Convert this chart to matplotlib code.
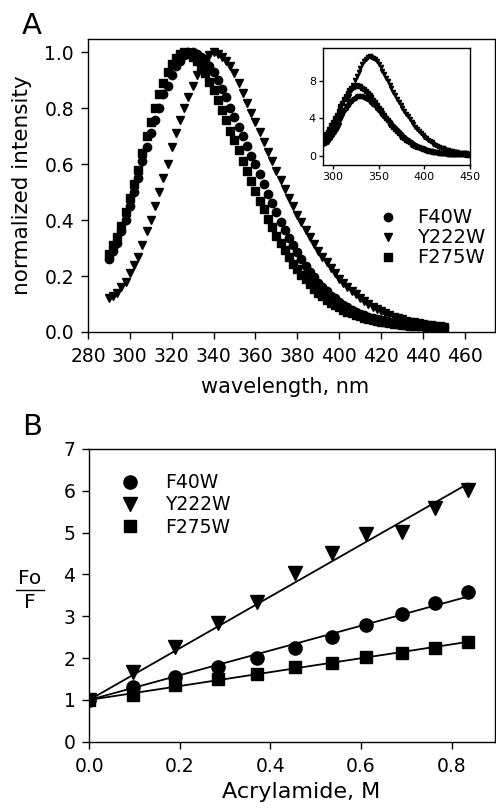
import matplotlib
matplotlib.use('Agg')
import matplotlib.pyplot as plt
import numpy as np
from matplotlib.lines import Line2D

plt.rcParams['font.family'] = ['DejaVu Sans']

# ---- panel A: emission spectra, normalized (290-450 nm, every 2 nm)
wavelength = np.arange(290, 451, 2)

f40w_norm = [0.26, 0.29, 0.32, 0.36, 0.40, 0.45, 0.50, 0.55, 0.61, 0.66,
             0.71, 0.76, 0.80, 0.85, 0.88, 0.92, 0.95, 0.97, 0.99, 1.00,
             1.00, 0.995, 0.985, 0.97, 0.95, 0.93, 0.90, 0.87, 0.84, 0.80,
             0.77, 0.735, 0.70, 0.665, 0.63, 0.60, 0.565, 0.53, 0.495, 0.46,
             0.43, 0.395, 0.365, 0.335, 0.31, 0.285, 0.26, 0.235, 0.215, 0.195,
             0.175, 0.16, 0.145, 0.13, 0.12, 0.107, 0.097, 0.088, 0.08, 0.073,
             0.066, 0.06, 0.055, 0.05, 0.046, 0.042, 0.039, 0.036, 0.033, 0.031,
             0.029, 0.027, 0.025, 0.024, 0.023, 0.022, 0.021, 0.02, 0.019, 0.018,
             0.017]

y222w_norm = [0.12, 0.13, 0.14, 0.16, 0.18, 0.21, 0.24, 0.27, 0.31, 0.36,
              0.40, 0.45, 0.50, 0.55, 0.60, 0.66, 0.71, 0.76, 0.80, 0.84,
              0.88, 0.92, 0.95, 0.975, 0.99, 1.00, 0.995, 0.985, 0.97, 0.95,
              0.925, 0.89, 0.855, 0.82, 0.785, 0.75, 0.715, 0.68, 0.645, 0.61,
              0.575, 0.545, 0.51, 0.48, 0.45, 0.42, 0.395, 0.365, 0.34, 0.315,
              0.29, 0.27, 0.25, 0.23, 0.21, 0.19, 0.175, 0.16, 0.145, 0.135,
              0.12, 0.11, 0.10, 0.09, 0.082, 0.074, 0.067, 0.06, 0.055, 0.05,
              0.045, 0.041, 0.037, 0.034, 0.031, 0.028, 0.026, 0.024, 0.022, 0.02,
              0.019]

f275w_norm = [0.28, 0.31, 0.34, 0.38, 0.43, 0.48, 0.53, 0.58, 0.64, 0.70,
              0.75, 0.80, 0.85, 0.89, 0.93, 0.96, 0.98, 0.995, 1.00, 0.995,
              0.985, 0.97, 0.95, 0.925, 0.895, 0.865, 0.83, 0.795, 0.76, 0.72,
              0.685, 0.65, 0.61, 0.575, 0.54, 0.505, 0.47, 0.44, 0.405, 0.375,
              0.345, 0.32, 0.295, 0.27, 0.245, 0.225, 0.205, 0.19, 0.17, 0.155,
              0.14, 0.128, 0.116, 0.105, 0.096, 0.088, 0.08, 0.073, 0.067, 0.061,
              0.056, 0.051, 0.047, 0.043, 0.04, 0.037, 0.034, 0.032, 0.03, 0.028,
              0.026, 0.025, 0.023, 0.022, 0.021, 0.02, 0.019, 0.018, 0.018, 0.017,
              0.016]

# peak intensities of the raw spectra (inset)
peak_f40w = 6.4
peak_y222w = 10.6
peak_f275w = 7.5

# ---- panel B: Stern-Volmer quenching
acrylamide = [0, 0.097, 0.19, 0.285, 0.37, 0.454, 0.535, 0.612, 0.69, 0.763, 0.837]
f40w_fof = [1.0, 1.30, 1.555, 1.78, 2.01, 2.25, 2.50, 2.78, 3.05, 3.31, 3.59]
y222w_fof = [1.0, 1.67, 2.27, 2.85, 3.35, 4.03, 4.52, 4.97, 5.02, 5.58, 6.02]
f275w_fof = [1.0, 1.12, 1.36, 1.49, 1.63, 1.79, 1.89, 2.02, 2.11, 2.25, 2.39]

labels = ['F40W', 'Y222W', 'F275W']
markers = ['o', 'v', 's']

W, H = 496, 809
fig = plt.figure(figsize=(W / 100, H / 100), dpi=100)


def px_box(x0, y0, x1, y1):
    # pixel box (left, top, right, bottom) -> figure fraction rect
    return [x0 / W, 1 - y1 / H, (x1 - x0) / W, (y1 - y0) / H]


def style_axes(ax, size=13.5, length=5, pad=5):
    for s in ax.spines.values():
        s.set_linewidth(1.0)
    ax.tick_params(direction='out', length=length, width=1.0, labelsize=size,
                   top=False, right=False, pad=pad)


# panel A
axA = fig.add_axes(px_box(88, 39, 495, 332))
sizes_a = {'o': 6.0, 'v': 6.2, 's': 5.4}
for ys, m, lab in zip([f40w_norm, y222w_norm, f275w_norm], markers, labels):
    axA.plot(wavelength, ys, m, color='black', ms=sizes_a[m], linestyle='none', label=lab)
axA.set_xlim(280, 474.5)
axA.set_ylim(0, 1.048)
axA.set_xticks(np.arange(280, 461, 20))
axA.set_yticks(np.arange(0, 1.01, 0.2))
axA.set_yticklabels([f'{v:.1f}' for v in np.arange(0, 1.01, 0.2)])
style_axes(axA)
axA.tick_params(axis='x', pad=6)
axA.legend(loc='center left', bbox_to_anchor=(0.7125, 0.321), frameon=False,
           fontsize=14, handlelength=1.0, handletextpad=1.0, labelspacing=0.05,
           borderpad=0, borderaxespad=0)

# inset
axI = fig.add_axes(px_box(323, 48, 470, 165))
for ys, pk, m in zip([f40w_norm, y222w_norm, f275w_norm],
                     [peak_f40w, peak_y222w, peak_f275w], markers):
    axI.plot(wavelength, np.array(ys) * pk, m, color='black', ms=3.0, linestyle='none')
axI.set_xlim(289, 450)
axI.set_ylim(-1, 11.5)
axI.set_xticks([300, 350, 400, 450])
axI.set_yticks([0, 4, 8])
style_axes(axI, size=8, length=3, pad=2)

fig.text(22 / W, 1 - 34 / H, 'A', fontsize=21, va='baseline', ha='left')
fig.text(22 / W, 1 - 185 / H, 'normalized intensity', fontsize=15.5,
         rotation=90, ha='center', va='center')
fig.text(285 / W, 1 - 387 / H, 'wavelength, nm', fontsize=15, ha='center', va='center')

# panel B
axB = fig.add_axes(px_box(89.3, 449, 495, 741.7))
sizes_b = {'o': 9.5, 'v': 9.5, 's': 8.5}
for ys, m, lab in zip([f40w_fof, y222w_fof, f275w_fof], markers, labels):
    axB.plot(acrylamide, ys, m, color='black', ms=sizes_b[m], linestyle='none', label=lab)
# linear fits forced through Fo/F = 1
x = np.array(acrylamide)
for ys in [f40w_fof, y222w_fof, f275w_fof]:
    y = np.array(ys)
    ksv = np.sum(x * (y - 1)) / np.sum(x * x)
    axB.plot([0, x.max()], [1, 1 + ksv * x.max()], color='black', lw=1.3)
axB.set_xlim(0, 0.896)
axB.set_ylim(0, 7)
axB.set_xticks([0, 0.2, 0.4, 0.6, 0.8])
axB.set_xticklabels(['0.0', '0.2', '0.4', '0.6', '0.8'])
axB.set_yticks(range(0, 8))
style_axes(axB)
axB.tick_params(axis='x', pad=6)
axB.legend(loc='center left', bbox_to_anchor=(0.077, 0.809), frameon=False,
           fontsize=13.5, handlelength=1.0, handletextpad=1.37, labelspacing=0.17,
           borderpad=0, borderaxespad=0)

fig.text(22 / W, 1 - 435 / H, 'B', fontsize=21, va='baseline', ha='left')
fig.text(301 / W, 1 - 792 / H, 'Acrylamide, M', fontsize=16, ha='center', va='center')
fig.text(30 / W, 1 - 579 / H, 'Fo', fontsize=14.5, ha='center', va='center')
fig.text(30 / W, 1 - 602 / H, 'F', fontsize=14.5, ha='center', va='center')
fig.add_artist(Line2D([16 / W, 44 / W], [1 - 590 / H, 1 - 590 / H],
                      transform=fig.transFigure, color='black', lw=1.0))

fig.savefig('out.png', dpi=100)
